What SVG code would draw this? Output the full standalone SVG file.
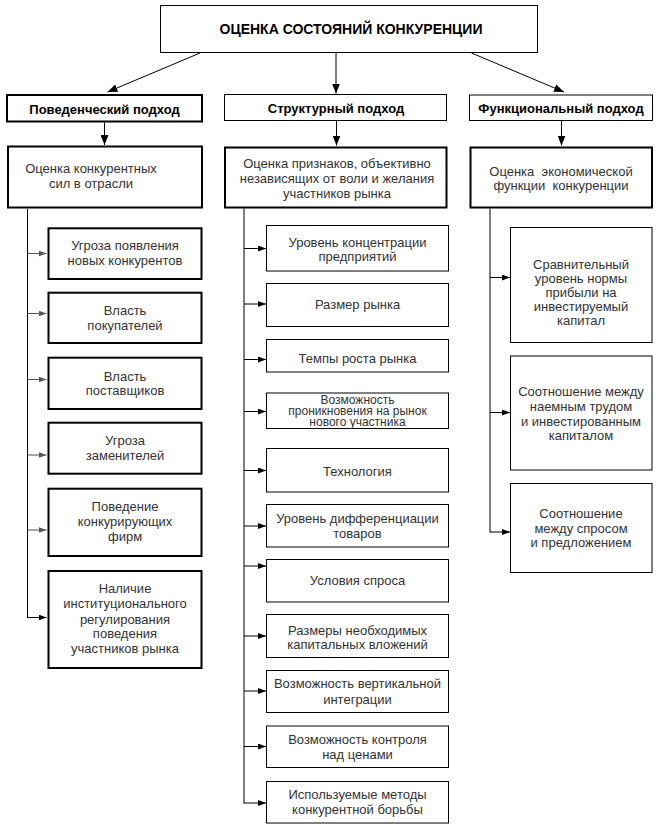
<svg xmlns="http://www.w3.org/2000/svg" width="658" height="828" viewBox="0 0 658 828">
<style>
.bx{fill:#fff;stroke:#000;stroke-width:1}
.bk{fill:#fff;stroke:#000;stroke-width:2}
.t{font-family:"Liberation Sans",Arial,sans-serif;font-size:13px;fill:#333;text-anchor:middle}
.ts{font-family:"Liberation Sans",Arial,sans-serif;font-size:12px;fill:#333;text-anchor:middle}
.h{font-family:"Liberation Sans",Arial,sans-serif;font-size:13px;font-weight:bold;fill:#000;text-anchor:middle}
.ttl{font-family:"Liberation Sans",Arial,sans-serif;font-size:14px;font-weight:bold;fill:#000;text-anchor:middle}
.c{fill:none;stroke:#000;stroke-width:1}
.cg{fill:none;stroke:#555;stroke-width:1}
</style>
<defs>
<marker id="a" viewBox="0 0 8 6" refX="8" refY="3" markerWidth="8" markerHeight="6" markerUnits="userSpaceOnUse" orient="auto"><path d="M0,0 L8,3 L0,6 z" fill="#000"/></marker>
<marker id="ag" viewBox="0 0 8 6" refX="8" refY="3" markerWidth="8" markerHeight="6" markerUnits="userSpaceOnUse" orient="auto"><path d="M0,0 L8,3 L0,6 z" fill="#555"/></marker>
<marker id="A" viewBox="0 0 10 8" refX="10" refY="4" markerWidth="10" markerHeight="8" markerUnits="userSpaceOnUse" orient="auto"><path d="M0,0 L10,4 L0,8 z" fill="#000"/></marker>
</defs>

<g id="connectors">
<line class="c" x1="200" y1="53" x2="107.5" y2="92" marker-end="url(#A)"/>
<line class="c" x1="336" y1="53" x2="336" y2="93.5" marker-end="url(#A)"/>
<line class="c" x1="471.5" y1="53" x2="564" y2="92" marker-end="url(#A)"/>
<line class="c" x1="104.5" y1="122.5" x2="104.5" y2="145" marker-end="url(#A)"/>
<line class="c" x1="336.5" y1="121" x2="336.5" y2="145.5" marker-end="url(#A)"/>
<line class="c" x1="561.5" y1="121" x2="561.5" y2="145.5" marker-end="url(#A)"/>
<path class="c" d="M27.5,209 V618"/>
<line class="cg" x1="27.5" y1="253.5" x2="46.5" y2="253.5" marker-end="url(#ag)"/>
<line class="cg" x1="27.5" y1="313.5" x2="46.5" y2="313.5" marker-end="url(#ag)"/>
<line class="cg" x1="27.5" y1="379.5" x2="46.5" y2="379.5" marker-end="url(#ag)"/>
<line class="cg" x1="27.5" y1="455" x2="46.5" y2="455" marker-end="url(#ag)"/>
<line class="cg" x1="27.5" y1="530" x2="46.5" y2="530" marker-end="url(#ag)"/>
<line class="c" x1="27.5" y1="617.5" x2="46.5" y2="617.5" marker-end="url(#a)"/>
<path class="c" d="M244,208.5 V803.5"/>
<line class="c" x1="244" y1="248.5" x2="266" y2="248.5" marker-end="url(#a)"/>
<line class="c" x1="244" y1="304" x2="266" y2="304" marker-end="url(#a)"/>
<line class="c" x1="244" y1="359.5" x2="266" y2="359.5" marker-end="url(#a)"/>
<line class="c" x1="244" y1="411.5" x2="266" y2="411.5" marker-end="url(#a)"/>
<line class="c" x1="244" y1="470.5" x2="266" y2="470.5" marker-end="url(#a)"/>
<line class="c" x1="244" y1="526" x2="266" y2="526" marker-end="url(#a)"/>
<line class="c" x1="244" y1="566" x2="266" y2="566" marker-end="url(#a)"/>
<line class="c" x1="244" y1="636" x2="266" y2="636" marker-end="url(#a)"/>
<line class="c" x1="244" y1="691" x2="266" y2="691" marker-end="url(#a)"/>
<line class="c" x1="244" y1="746.5" x2="266" y2="746.5" marker-end="url(#a)"/>
<line class="c" x1="244" y1="803" x2="266" y2="803" marker-end="url(#a)"/>
<path class="c" d="M490,208.5 V532.5"/>
<line class="c" x1="490" y1="277.5" x2="510" y2="277.5" marker-end="url(#a)"/>
<line class="c" x1="490" y1="412.5" x2="510" y2="412.5" marker-end="url(#a)"/>
<line class="c" x1="490" y1="532" x2="510" y2="532" marker-end="url(#a)"/>
</g>

<g id="root">
<rect class="bx" x="160.5" y="5.5" width="377" height="47"/>
<text class="ttl" x="351" y="34.3">ОЦЕНКА СОСТОЯНИЙ КОНКУРЕНЦИИ</text>
</g>

<g id="behav">
<rect class="bk" x="7" y="95" width="195" height="26.5"/>
<text class="h" x="104.5" y="113.5">Поведенческий подход</text>
</g>
<g id="struct">
<rect class="bx" x="224.5" y="94.5" width="222" height="26"/>
<text class="h" x="336" y="113">Структурный подход</text>
</g>
<g id="func">
<rect class="bx" x="469.5" y="95" width="183" height="25.5"/>
<text class="h" x="561" y="113">Функциональный подход</text>
</g>

<g id="behav-eval">
<rect class="bk" x="8" y="146.5" width="194" height="61"/>
<text class="t" x="91" y="173">Оценка конкурентных</text>
<text class="t" x="91" y="188">сил в отрасли</text>
</g>
<g id="struct-eval">
<rect class="bk" x="225" y="147.5" width="221.5" height="60"/>
<text class="t" x="337" y="168">Оценка признаков, объективно</text>
<text class="t" x="337" y="183">независящих от воли и желания</text>
<text class="t" x="337" y="198">участников рынка</text>
</g>
<g id="func-eval">
<rect class="bk" x="470.5" y="147.5" width="181.5" height="60"/>
<text class="t" x="561" y="175.5" style="white-space:pre">Оценка  экономической</text>
<text class="t" x="561" y="189.5" style="white-space:pre">функции  конкуренции</text>
</g>

<g id="b1"><rect class="bk" x="48.5" y="228.3" width="153" height="50.7"/>
<text class="t" x="125" y="250.2">Угроза появления</text><text class="t" x="125" y="265.2">новых конкурентов</text></g>
<g id="b2"><rect class="bk" x="48.5" y="292.7" width="153" height="50.3"/>
<text class="t" x="125" y="314.5">Власть</text><text class="t" x="125" y="329.5">покупателей</text></g>
<g id="b3"><rect class="bk" x="48.5" y="357.7" width="153" height="51.3"/>
<text class="t" x="125" y="380.5">Власть</text><text class="t" x="125" y="395.2">поставщиков</text></g>
<g id="b4"><rect class="bk" x="48.5" y="422.7" width="153" height="51"/>
<text class="t" x="125" y="444.5">Угроза</text><text class="t" x="125" y="459.5">заменителей</text></g>
<g id="b5"><rect class="bk" x="48.5" y="488.7" width="153" height="67.3"/>
<text class="t" x="125" y="511.2">Поведение</text><text class="t" x="125" y="526.2">конкурирующих</text><text class="t" x="125" y="541.2">фирм</text></g>
<g id="b6"><rect class="bk" x="48.5" y="571" width="153" height="97"/>
<text class="t" x="125" y="592.8">Наличие</text><text class="t" x="125" y="607.8">институционального</text><text class="t" x="125" y="623.5">регулирования</text><text class="t" x="125" y="637.8">поведения</text><text class="t" x="125" y="652.8">участников рынка</text></g>

<g id="s1"><rect class="bx" x="266.5" y="225.5" width="182" height="45.5"/>
<text class="t" x="357.5" y="246.8">Уровень концентрации</text><text class="t" x="357.5" y="261.2">предприятий</text></g>
<g id="s2"><rect class="bx" x="266.5" y="283.5" width="182" height="43"/>
<text class="t" x="357.5" y="308.8">Размер рынка</text></g>
<g id="s3"><rect class="bx" x="266.5" y="339.5" width="182" height="32.5"/>
<text class="t" x="357.5" y="362.5">Темпы роста рынка</text></g>
<g id="s4"><rect class="bx" x="266.5" y="393" width="182" height="35.5"/>
<text class="ts" x="357.5" y="404">Возможность</text><text class="ts" x="357.5" y="415">проникновения на рынок</text><text class="ts" x="357.5" y="426">нового участника</text></g>
<g id="s5"><rect class="bx" x="266.5" y="448.5" width="182" height="43.5"/>
<text class="t" x="357.5" y="475.5">Технология</text></g>
<g id="s6"><rect class="bx" x="266.5" y="504.5" width="182" height="42.5"/>
<text class="t" x="357.5" y="522.8">Уровень дифференциации</text><text class="t" x="357.5" y="537.8">товаров</text></g>
<g id="s7"><rect class="bx" x="266.5" y="559.5" width="182" height="42.5"/>
<text class="t" x="357.5" y="585.2">Условия спроса</text></g>
<g id="s8"><rect class="bx" x="266.5" y="614.5" width="182" height="43"/>
<text class="t" x="357.5" y="634.5">Размеры необходимых</text><text class="t" x="357.5" y="648.8">капитальных вложений</text></g>
<g id="s9"><rect class="bx" x="266.5" y="670.5" width="182" height="42"/>
<text class="t" x="357.5" y="687.8">Возможность вертикальной</text><text class="t" x="357.5" y="703.5">интеграции</text></g>
<g id="s10"><rect class="bx" x="266.5" y="726" width="182" height="41.5"/>
<text class="t" x="357.5" y="743.5">Возможность контроля</text><text class="t" x="357.5" y="758.5">над ценами</text></g>
<g id="s11"><rect class="bx" x="266.5" y="781.5" width="182" height="41.5"/>
<text class="t" x="357.5" y="798.5">Используемые методы</text><text class="t" x="357.5" y="813.5">конкурентной борьбы</text></g>

<g id="f1"><rect class="bx" x="510.5" y="227.5" width="141.5" height="115"/>
<text class="t" x="581" y="268.8">Сравнительный</text><text class="t" x="581" y="282.8">уровень нормы</text><text class="t" x="581" y="296.8">прибыли на</text><text class="t" x="581" y="311.2">инвестируемый</text><text class="t" x="581" y="325.2">капитал</text></g>
<g id="f2"><rect class="bx" x="510.5" y="356" width="141.5" height="114"/>
<text class="t" x="581" y="396.2">Соотношение между</text><text class="t" x="581" y="411.2">наемным трудом</text><text class="t" x="581" y="425.5">и инвестированным</text><text class="t" x="581" y="440.2">капиталом</text></g>
<g id="f3"><rect class="bx" x="510.5" y="483.5" width="141.5" height="89"/>
<text class="t" x="581" y="517.8">Соотношение</text><text class="t" x="581" y="532.8">между спросом</text><text class="t" x="581" y="547.2">и предложением</text></g>
</svg>
